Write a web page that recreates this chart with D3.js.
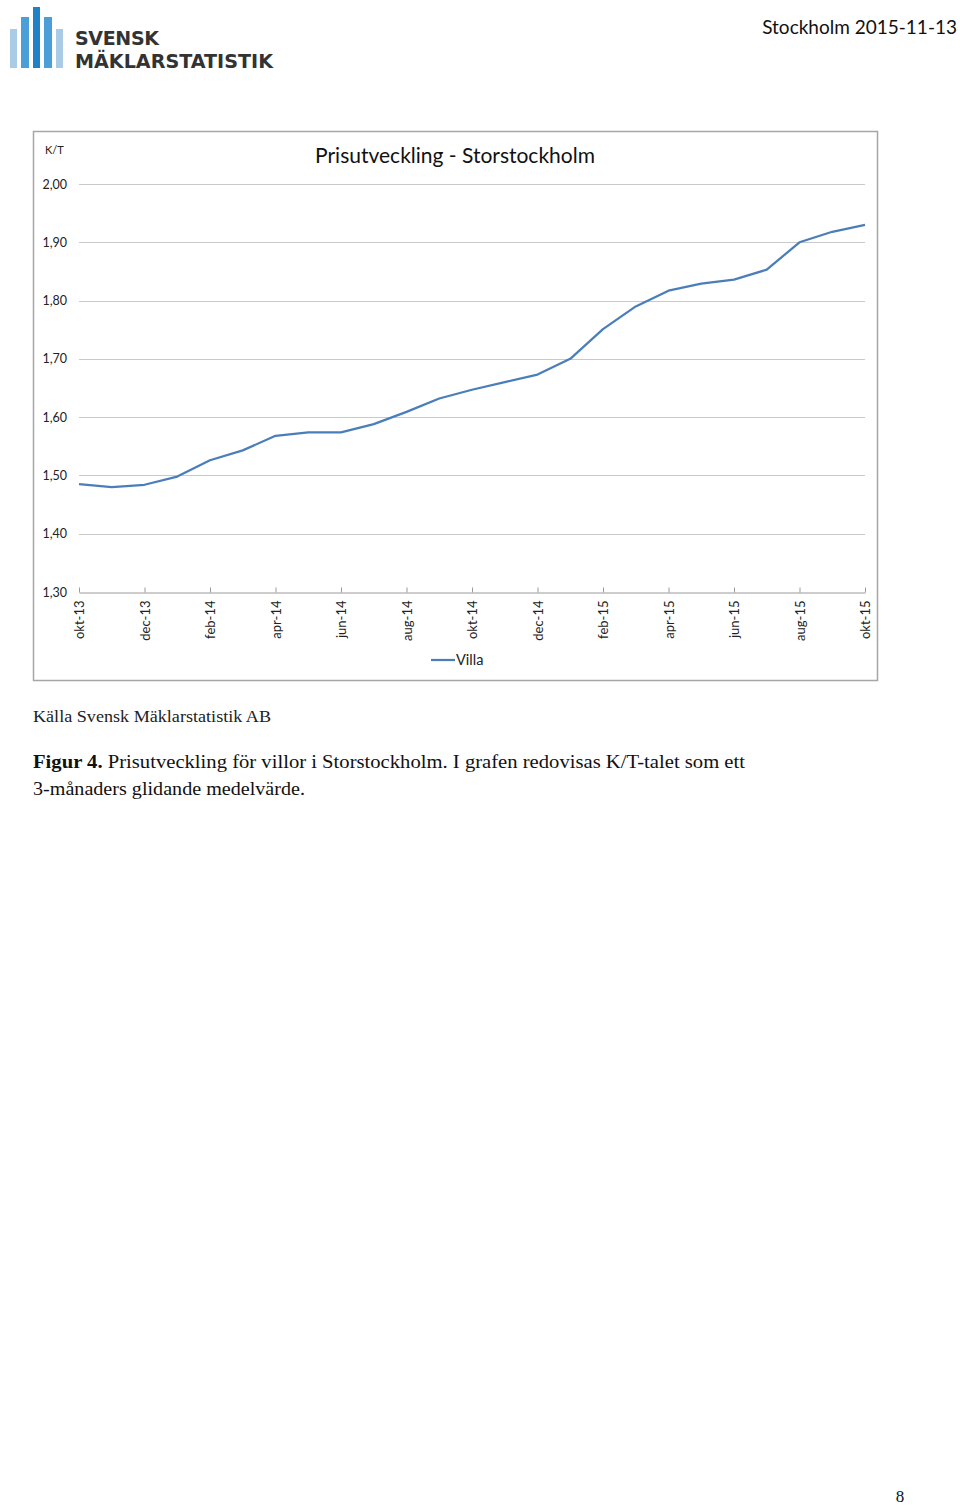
<!DOCTYPE html>
<html>
<head>
<meta charset="utf-8">
<script src="https://cdn.jsdelivr.net/npm/d3@7"></script>
<style>
  html, body { margin: 0; padding: 0; background: #fff; }
  svg { display: block; }
</style>
</head>
<body>
<svg id="page" width="960" height="1506"></svg>
<script>
// ---- Data ----
const months = ["okt-13","nov-13","dec-13","jan-14","feb-14","mar-14","apr-14","maj-14","jun-14","jul-14","aug-14","sep-14","okt-14","nov-14","dec-14","jan-15","feb-15","mar-15","apr-15","maj-15","jun-15","jul-15","aug-15","sep-15","okt-15"];
const villa = [1.485,1.480,1.484,1.498,1.526,1.543,1.568,1.574,1.574,1.588,1.609,1.632,1.647,1.660,1.673,1.700,1.751,1.790,1.817,1.829,1.836,1.853,1.900,1.918,1.930];
const xTickLabels = ["okt-13","dec-13","feb-14","apr-14","jun-14","aug-14","okt-14","dec-14","feb-15","apr-15","jun-15","aug-15","okt-15"];
const yTicks = [1.30,1.40,1.50,1.60,1.70,1.80,1.90,2.00];
const seriesName = "Villa";
const chartTitle = "Prisutveckling - Storstockholm";
const yUnit = "K/T";

const svg = d3.select("#page");
const sans = "Lato, 'Open Sans', sans-serif";
const serif = "'Liberation Serif', 'DejaVu Serif', serif";

// ---- Header: logo ----
const logo = svg.append("g");
const bars = [
  {x:10, y:29, w:7, c:"#a9cbe6"},
  {x:21, y:17, w:8, c:"#4a9fd8"},
  {x:33, y:7,  w:7, c:"#1f82c6"},
  {x:44, y:17, w:8, c:"#4a9fd8"},
  {x:56, y:29, w:7, c:"#a9cbe6"}
];
logo.selectAll("rect").data(bars).join("rect")
  .attr("x", d => d.x).attr("y", d => d.y)
  .attr("width", d => d.w).attr("height", d => 68 - d.y)
  .attr("fill", d => d.c);
logo.append("text").attr("x", 75).attr("y", 45)
  .attr("font-family", "'DejaVu Sans', sans-serif").attr("font-weight", "bold")
  .attr("font-size", 19).attr("fill", "#333").attr("textLength", 84)
  .attr("lengthAdjust", "spacing").text("SVENSK");
logo.append("text").attr("x", 75).attr("y", 68)
  .attr("font-family", "'DejaVu Sans', sans-serif").attr("font-weight", "bold")
  .attr("font-size", 19).attr("fill", "#333").attr("textLength", 198)
  .attr("lengthAdjust", "spacingAndGlyphs").text("MÄKLARSTATISTIK");

svg.append("text").attr("x", 957).attr("y", 34).attr("text-anchor", "end")
  .attr("font-family", sans).attr("font-size", 19).attr("fill", "#111")
  .text("Stockholm 2015-11-13");

// ---- Chart frame ----
svg.append("rect").attr("x", 33.5).attr("y", 131.5).attr("width", 844).attr("height", 549)
  .attr("fill", "#fff").attr("stroke", "#a6a6a6").attr("stroke-width", 1.5);

const x = d3.scalePoint().domain(months).range([79, 865]);
const y = d3.scaleLinear().domain([1.30, 2.00]).range([592, 184]);
const fmt = d => d3.format(".2f")(d).replace(".", ",");

// gridlines
svg.append("g").selectAll("line").data(yTicks.filter(t => t > 1.3)).join("line")
  .attr("x1", 79).attr("x2", 865)
  .attr("y1", d => Math.round(y(d)) + 0.5).attr("y2", d => Math.round(y(d)) + 0.5)
  .attr("stroke", "#c9c9c9").attr("stroke-width", 1);

// y axis labels
const yAxis = svg.append("g").attr("transform", "translate(79,0)")
  .call(d3.axisLeft(y).tickValues(yTicks).tickFormat(fmt).tickSize(0).tickPadding(12));
yAxis.select(".domain").remove();
yAxis.selectAll("text").attr("font-family", sans).attr("font-size", 12.5).attr("fill", "#222");

// x axis
const xAxis = svg.append("g").attr("transform", "translate(0,592.5)")
  .call(d3.axisBottom(x).tickValues(xTickLabels).tickSizeInner(-5).tickSizeOuter(0));
xAxis.select(".domain").attr("stroke", "#9a9a9a");
xAxis.selectAll(".tick line").attr("stroke", "#9a9a9a");
xAxis.selectAll("text")
  .attr("font-family", sans).attr("font-size", 13).attr("fill", "#222")
  .attr("x", 0).attr("y", 0).attr("dy", "0.35em")
  .attr("text-anchor", "end")
  .attr("transform", "translate(0,8) rotate(-90)");

// line
svg.append("path").datum(villa)
  .attr("fill", "none").attr("stroke", "#4a7ebb").attr("stroke-width", 2.25)
  .attr("stroke-linejoin", "round")
  .attr("d", d3.line().x((d, i) => x(months[i])).y(d => y(d)));

// title & unit
svg.append("text").attr("x", 455).attr("y", 163).attr("text-anchor", "middle")
  .attr("font-family", sans).attr("font-size", 21).attr("fill", "#111").text(chartTitle);
svg.append("text").attr("x", 45).attr("y", 154)
  .attr("font-family", sans).attr("font-size", 11).attr("fill", "#222").text(yUnit);

// legend
svg.append("line").attr("x1", 431).attr("x2", 455).attr("y1", 660).attr("y2", 660)
  .attr("stroke", "#4a7ebb").attr("stroke-width", 2.25);
svg.append("text").attr("x", 456).attr("y", 665)
  .attr("font-family", sans).attr("font-size", 14.5).attr("fill", "#222").text(seriesName);

// ---- Source and caption ----
svg.append("text").attr("x", 33).attr("y", 722)
  .attr("font-family", serif).attr("font-size", 17).attr("fill", "#222")
  .attr("textLength", 238).attr("lengthAdjust", "spacingAndGlyphs")
  .text("Källa Svensk Mäklarstatistik AB");

const cap1 = svg.append("text").attr("x", 33).attr("y", 768)
  .attr("font-family", serif).attr("font-size", 19).attr("fill", "#111")
  .attr("textLength", 712).attr("lengthAdjust", "spacingAndGlyphs");
cap1.append("tspan").attr("font-weight", "bold").text("Figur 4.");
cap1.append("tspan").text(" Prisutveckling för villor i Storstockholm. I grafen redovisas K/T-talet som ett");
svg.append("text").attr("x", 33).attr("y", 795)
  .attr("font-family", serif).attr("font-size", 19).attr("fill", "#111")
  .attr("textLength", 272).attr("lengthAdjust", "spacingAndGlyphs")
  .text("3-månaders glidande medelvärde.");

svg.append("text").attr("x", 900).attr("y", 1502).attr("text-anchor", "middle")
  .attr("font-family", serif).attr("font-size", 17).attr("fill", "#111").text("8");
</script>
</body>
</html>
